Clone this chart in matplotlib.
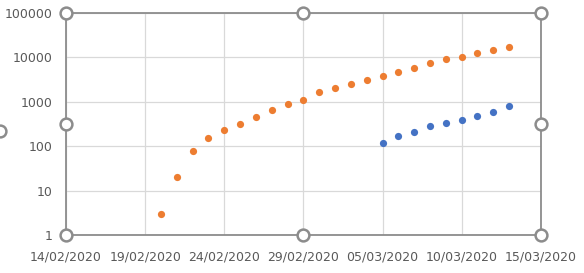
import matplotlib
matplotlib.use('Agg')
import matplotlib.pyplot as plt
import matplotlib.dates as mdates
import matplotlib.ticker as ticker
import pandas as pd

# cumulative cases
orange_dates = pd.date_range('2020-02-20', '2020-03-13', freq='D')
orange_values = [3, 20, 79, 155, 229, 323, 453, 655, 888, 1128, 1694, 2036, 2502,
                 3089, 3858, 4636, 5883, 7375, 9172, 10149, 12462, 15113, 17660]
blue_dates = pd.date_range('2020-03-05', '2020-03-13', freq='D')
blue_values = [116, 168, 215, 280, 330, 383, 470, 590, 798]

x_ticks = pd.date_range('2020-02-14', '2020-03-15', freq='5D')
y_ticks = [1, 10, 100, 1000, 10000, 100000]

grey = '#8c8c8c'
text_grey = '#595959'

fig = plt.figure(figsize=(5.84, 2.73), dpi=100)
ax = fig.add_axes([0.113, 0.139, 0.813, 0.813])

ax.plot(orange_dates, orange_values, 'o', color='#ED7D31', markersize=5.2, markeredgewidth=0, zorder=3)
ax.plot(blue_dates, blue_values, 'o', color='#4472C4', markersize=5.2, markeredgewidth=0, zorder=3)

ax.set_yscale('log')
ax.set_ylim(1, 100000)
ax.set_xlim(x_ticks[0], x_ticks[-1])
ax.set_yticks(y_ticks)
ax.yaxis.set_major_formatter(ticker.FuncFormatter(lambda v, p: '%d' % v))
ax.yaxis.set_minor_locator(ticker.NullLocator())
ax.set_xticks(x_ticks)
ax.xaxis.set_major_formatter(mdates.DateFormatter('%d/%m/%Y'))

ax.grid(True, color='#d9d9d9', linewidth=0.9)
ax.set_axisbelow(True)
ax.tick_params(length=0, labelsize=9, labelcolor=text_grey)
ax.tick_params(axis='x', pad=11)
ax.tick_params(axis='y', pad=10)
for s in ax.spines.values():
    s.set_color(grey)
    s.set_linewidth(1.3)

# selection handles of the plot area
for hx, hy in [(0, 0), (0.5, 0), (1, 0), (0, 0.5), (1, 0.5), (0, 1), (0.5, 1), (1, 1)]:
    ax.plot(hx, hy, 'o', transform=ax.transAxes, clip_on=False, markersize=8.5,
            markerfacecolor='white', markeredgecolor=grey, markeredgewidth=1.8, zorder=5)
fig.lines.append(plt.Line2D([0.0], [0.52], marker='o', markersize=8.5, markerfacecolor='white',
                            markeredgecolor=grey, markeredgewidth=1.8, transform=fig.transFigure))

fig.savefig('out.png', dpi=100)
